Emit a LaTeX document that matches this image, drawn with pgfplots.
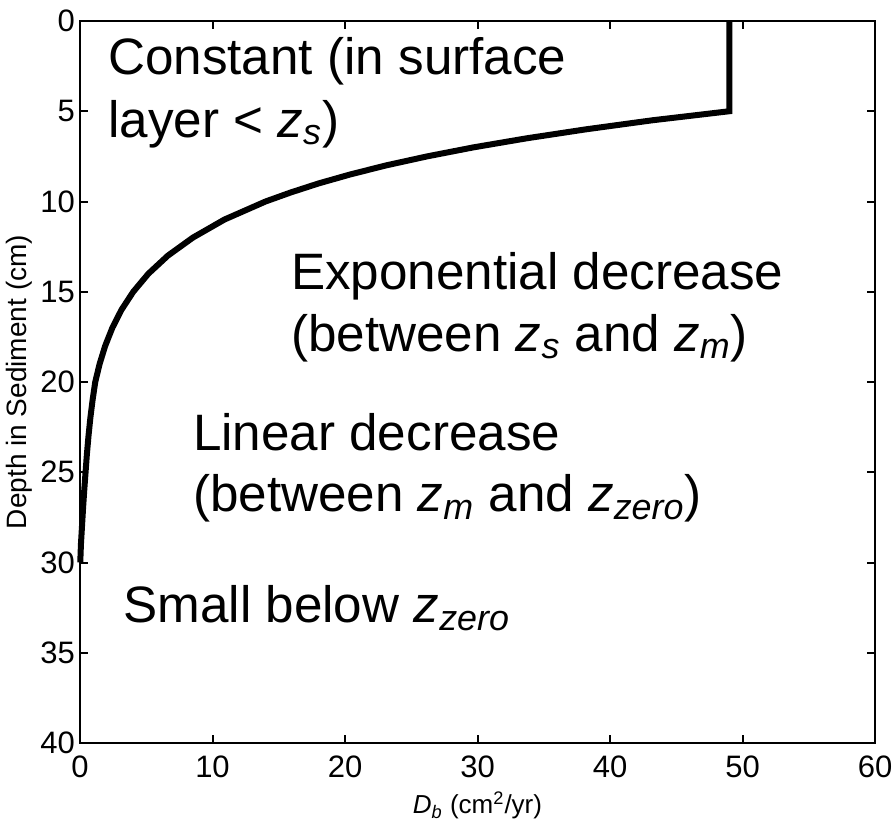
\documentclass[border=0pt]{standalone}
\usepackage{fontspec}
\setmainfont{Liberation Sans}
\usepackage{pgfplots}
\pgfplotsset{compat=1.18}

\newcommand{\zsub}[1]{\textit{z}\textsubscript{\textit{#1}}}

\begin{document}
\begin{tikzpicture}
\begin{axis}[
  name=ax,
  scale only axis,
  width=397.5pt, height=361pt,
  xmin=0, xmax=60, ymin=0, ymax=40,
  y dir=reverse,
  xtick={0,10,...,60}, ytick={0,5,...,40},
  axis line style={line width=1.1pt},
  tick style={line width=1pt, black},
  major tick length=4pt,
  tick align=inside,
  /pgf/number format/assume math mode=true,
  ticklabel style={font=\fontsize{15.5}{17}\selectfont},
  xticklabel style={yshift=-3pt},
  yticklabel style={xshift=1pt},
  xlabel={\textit{D}\textsubscript{\textit{b}} (cm\textsuperscript{2}/yr)},
  ylabel={Depth in Sediment (cm)},
  xlabel style={font=\fontsize{13}{15}\selectfont, yshift=0pt},
  ylabel style={font=\fontsize{14}{16}\selectfont, yshift=-3pt},
  clip=false,
]
\addplot[black, line width=3pt, line join=miter] coordinates {
  (49,0) (49,5) (43.2,5.5) (38.2,6) (33.7,6.5) (29.7,7) (26.2,7.5)
  (23.1,8) (20.4,8.5) (18.0,9) (15.9,9.5) (14.0,10) (10.9,11)
  (8.52,12) (6.63,13) (5.16,14) (4.02,15) (3.13,16) (2.44,17)
  (1.90,18) (1.48,19) (1.15,20) (0.95,21) (0.78,22) (0.64,23)
  (0.52,24) (0.42,25) (0.32,26) (0.23,27) (0.15,28) (0.07,29) (0.02,30)
};
\begin{scope}[every node/.style={anchor=base west, inner sep=0pt, font=\fontsize{25.6}{30}\selectfont}]
\node at (axis cs:2.1,2.99) {Constant (in surface};
\node at (axis cs:2.1,6.43) {layer < \zsub{s})};
\node at (axis cs:15.9,14.9) {Exponential decrease};
\node at (axis cs:15.9,18.3) {(between \zsub{s} and \zsub{m})};
\node at (axis cs:8.5,23.77) {Linear decrease};
\node at (axis cs:8.5,27.2) {(between \zsub{m} and \zsub{zero})};
\node at (axis cs:3.25,33.35) {Small below \zsub{zero}};
\end{scope}
\end{axis}
\pgfresetboundingbox
\path ([xshift=-40pt,yshift=-43pt]ax.south west) rectangle ([xshift=9.5pt,yshift=10.5pt]ax.north east);
\end{tikzpicture}
\end{document}
